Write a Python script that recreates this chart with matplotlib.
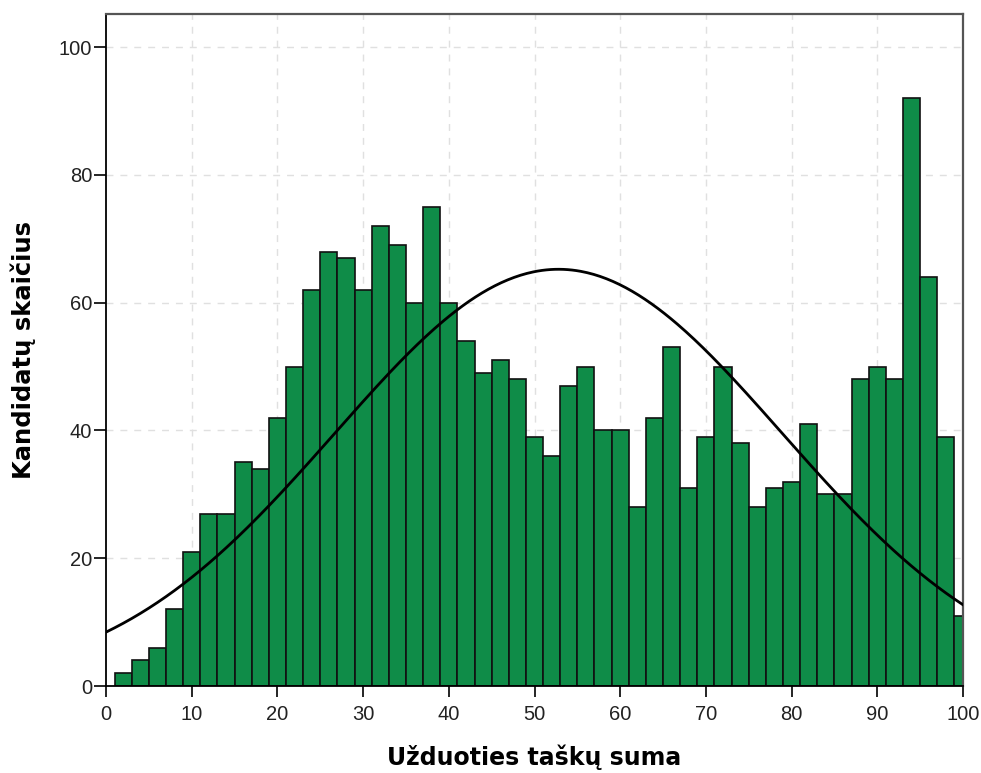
import numpy as np
import matplotlib.pyplot as plt

# histogram of score sums, bins 2 points wide (centres 2, 4, ..., 100)
bin_centers = list(range(2, 101, 2))
counts = [2, 4, 6, 12, 21, 27, 27, 35, 34, 42,
          50, 62, 68, 67, 62, 72, 69, 60, 75, 60,
          54, 49, 51, 48, 39, 36, 47, 50, 40, 40,
          28, 42, 53, 31, 39, 50, 38, 28, 31, 32,
          41, 30, 30, 48, 50, 48, 92, 64, 39, 11]
bin_width = 2

# fitted normal curve parameters
curve_mean = 52.8
curve_sd = 26.1

x_ticks = [0, 10, 20, 30, 40, 50, 60, 70, 80, 90, 100]
y_ticks = [0, 20, 40, 60, 80, 100]

fig = plt.figure(figsize=(9.81, 7.73), dpi=100)
ax = fig.add_axes([106 / 981, 1 - 686 / 773, (963 - 106) / 981, (686 - 14) / 773])

ax.set_axisbelow(True)
for v in x_ticks[1:-1]:
    ax.axvline(v, color='#e0e0e0', lw=1, ls=(0, (5, 5)), zorder=0)
for v in y_ticks[1:]:
    ax.axhline(v, color='#e0e0e0', lw=1, ls=(0, (5, 5)), zorder=0)

ax.bar(bin_centers, counts, width=bin_width, color='#0f8c48',
       edgecolor='#111111', linewidth=1.2, zorder=2)

n_total = sum(counts)
xs = np.linspace(0, 100, 400)
ys = n_total * bin_width / (curve_sd * np.sqrt(2 * np.pi)) * np.exp(-(xs - curve_mean) ** 2 / (2 * curve_sd ** 2))
ax.plot(xs, ys, color='black', lw=2.0, zorder=3)

ax.set_xlim(0, 100)
ax.set_ylim(0, 105.2)
ax.set_xticks(x_ticks)
ax.set_yticks(y_ticks)
ax.tick_params(axis='both', labelsize=14.5, direction='out', color='black', width=1.2,
               labelcolor='#222222')
ax.tick_params(axis='x', length=8, pad=6)
ax.tick_params(axis='y', length=9, pad=1)
for lab in ax.get_xticklabels() + ax.get_yticklabels():
    lab.set_family('Liberation Sans')

ax.spines['left'].set_color('black')
ax.spines['bottom'].set_color('black')
ax.spines['left'].set_linewidth(1.3)
ax.spines['bottom'].set_linewidth(1.3)
ax.spines['top'].set_color('#555555')
ax.spines['right'].set_color('#555555')
ax.spines['top'].set_linewidth(1.6)
ax.spines['right'].set_linewidth(1.6)

fig.text(534 / 981, 1 - 757 / 773, 'Užduoties taškų suma', ha='center', va='center',
         fontsize=17, fontweight='bold', family='DejaVu Sans')
fig.text(23 / 981, 1 - 350 / 773, 'Kandidatų skaičius', ha='center', va='center',
         rotation=90, fontsize=17.5, fontweight='bold', family='DejaVu Sans')

fig.savefig('out.png', dpi=100)
